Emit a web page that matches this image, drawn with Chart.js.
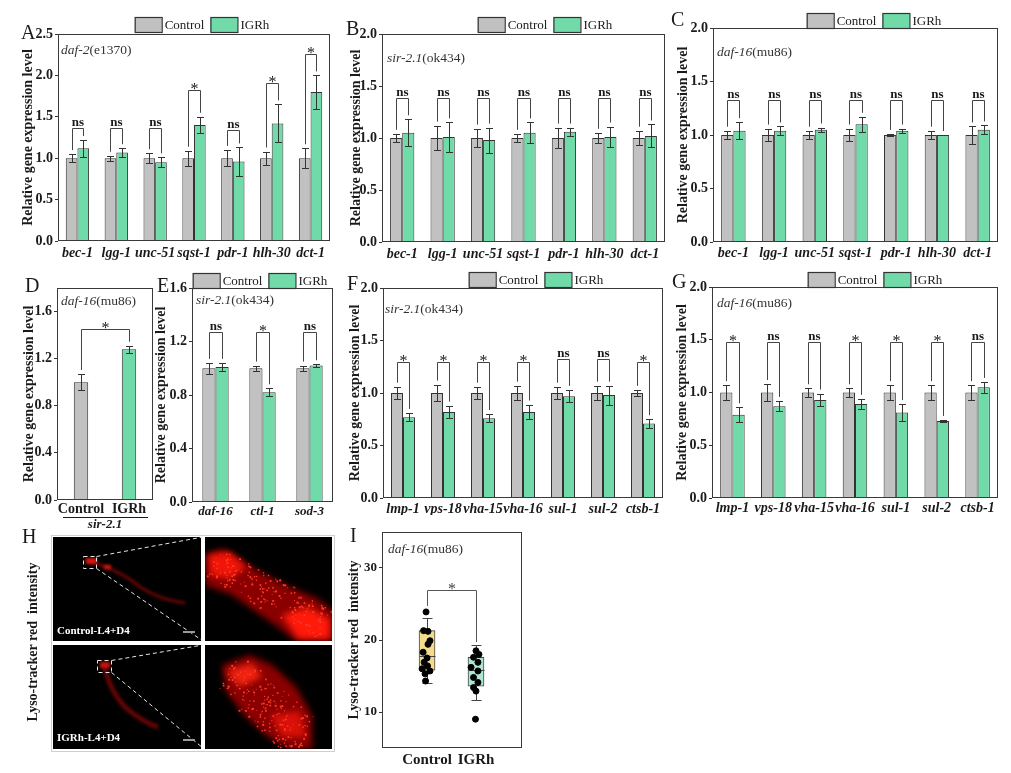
<!DOCTYPE html>
<html>
<head>
<meta charset="utf-8">
<script src="https://cdn.jsdelivr.net/npm/chart.js@4.4.1/dist/chart.umd.min.js"></script>
<style>
  html, body { margin: 0; padding: 0; background: #fff; }
  #page { position: relative; width: 1011px; height: 773px; overflow: hidden; background: #fff; }
  .pane { position: absolute; }
</style>
</head>
<body>
<div id="page"></div>
<script>
// ---- data ----
const seriesNames = ['Control', 'IGRh'];

const genesABC = ['bec-1', 'lgg-1', 'unc-51', 'sqst-1', 'pdr-1', 'hlh-30', 'dct-1'];

const ctrlA = [1, 1, 1, 1, 1, 1, 1];
const ctrlErrA = [0.05, 0.03, 0.06, 0.09, 0.10, 0.08, 0.12];
const igrhA = [1.12, 1.07, 0.95, 1.40, 0.96, 1.42, 1.80];
const igrhErrA = [0.10, 0.05, 0.06, 0.10, 0.17, 0.23, 0.20];
const sigA = ['ns', 'ns', 'ns', '*', 'ns', '*', '*'];
const bracketA = [1.36, 1.36, 1.36, 1.82, 1.34, 1.91, 2.26];

const ctrlB = [1, 1, 1, 1, 1, 1, 1];
const ctrlErrB = [0.04, 0.12, 0.09, 0.04, 0.10, 0.05, 0.07];
const igrhB = [1.05, 1.01, 0.98, 1.05, 1.06, 1.01, 1.02];
const igrhErrB = [0.13, 0.14, 0.12, 0.10, 0.04, 0.10, 0.11];
const sigB = ['ns', 'ns', 'ns', 'ns', 'ns', 'ns', 'ns'];
const bracketB = [1.38, 1.38, 1.38, 1.38, 1.38, 1.38, 1.38];

const ctrlC = [1, 1, 1, 1, 1, 1, 1];
const ctrlErrC = [0.04, 0.06, 0.04, 0.06, 0.01, 0.04, 0.08];
const igrhC = [1.04, 1.04, 1.05, 1.10, 1.04, 1.00, 1.05];
const igrhErrC = [0.08, 0.04, 0.02, 0.07, 0.02, 0.00, 0.04];
const sigC = ['ns', 'ns', 'ns', 'ns', 'ns', 'ns', 'ns'];
const bracketC = [1.33, 1.33, 1.33, 1.33, 1.33, 1.33, 1.33];

const groupsD = ['Control', 'IGRh'];
const valuesD = [1.00, 1.28];
const errD = [0.07, 0.03];
const sigD = ['*'];
const bracketD = [1.45];

const genesE = ['daf-16', 'ctl-1', 'sod-3'];
const ctrlE = [1, 1, 1];
const ctrlErrE = [0.04, 0.02, 0.02];
const igrhE = [1.01, 0.82, 1.02];
const igrhErrE = [0.03, 0.03, 0.01];
const sigE = ['ns', '*', 'ns'];
const bracketE = [1.27, 1.27, 1.27];

const genesFG = ['lmp-1', 'vps-18', 'vha-15', 'vha-16', 'sul-1', 'sul-2', 'ctsb-1'];

const ctrlF = [1, 1, 1, 1, 1, 1, 1];
const ctrlErrF = [0.06, 0.08, 0.06, 0.07, 0.06, 0.07, 0.03];
const igrhF = [0.77, 0.82, 0.76, 0.82, 0.97, 0.98, 0.71];
const igrhErrF = [0.04, 0.06, 0.04, 0.07, 0.06, 0.09, 0.04];
const sigF = ['*', '*', '*', '*', 'ns', 'ns', '*'];
const bracketF = [1.30, 1.30, 1.30, 1.30, 1.32, 1.32, 1.30];

const ctrlG = [1, 1, 1, 1, 1, 1, 1];
const ctrlErrG = [0.07, 0.08, 0.04, 0.04, 0.07, 0.07, 0.07];
const igrhG = [0.79, 0.87, 0.93, 0.89, 0.81, 0.73, 1.05];
const igrhErrG = [0.07, 0.05, 0.06, 0.05, 0.08, 0.01, 0.05];
const sigG = ['*', 'ns', 'ns', '*', '*', '*', 'ns'];
const bracketG = [1.48, 1.48, 1.48, 1.48, 1.48, 1.48, 1.48];

// panel I (box plot + points)
const groupsI = ['Control', 'IGRh'];
const ticksI = [10, 20, 30];
const boxLowI = [14.0, 11.6];
const boxQ1I = [15.8, 13.6];
const boxMedI = [17.8, 15.8];
const boxQ3I = [21.3, 17.6];
const boxHighI = [23.0, 19.3];
const pointsCtrlI = [23.9, 21.3, 21.2, 19.9, 19.4, 18.3, 17.5, 16.9, 16.4, 16.0, 15.7, 15.3, 14.3];
const jitterCtrlI = [-0.02, -0.07, 0.02, 0.06, 0.02, -0.08, 0.00, -0.06, 0.01, -0.10, 0.06, -0.04, -0.03];
const pointsIgrhI = [18.5, 18.0, 17.6, 16.9, 16.2, 15.7, 14.8, 14.1, 13.4, 12.9, 9.0];
const jitterIgrhI = [0.00, 0.06, -0.05, 0.04, -0.10, 0.04, -0.05, 0.04, -0.05, 0.00, -0.01];
const sigI = ['*'];
const bracketI = [27.0];

// ---- styling ----
const SERIF = "'Liberation Serif', 'Times New Roman', serif";
const GRAY = '#c1c1c1';
const GREEN = '#70dba9';
const EDGE = '#333333';
const INK = '#1a1a1a';
const TITLE_SIZE = 14;
Chart.defaults.font.family = SERIF;
Chart.defaults.color = INK;

function addCanvas(x, y, w, h) {
  const d = document.createElement('div');
  d.className = 'pane';
  d.style.cssText = `left:${x}px;top:${y}px;width:${w}px;height:${h}px`;
  const c = document.createElement('canvas');
  c.width = w; c.height = h;
  c.style.width = w + 'px'; c.style.height = h + 'px';
  d.appendChild(c);
  document.getElementById('page').appendChild(d);
  return c;
}

function seg(ctx, x1, y1, x2, y2) {
  ctx.beginPath(); ctx.moveTo(x1, y1); ctx.lineTo(x2, y2); ctx.stroke();
}

function mixedText(ctx, parts, x, y) {
  parts.forEach(([t, f]) => {
    ctx.font = f;
    ctx.fillText(t, x, y);
    x += ctx.measureText(t).width;
  });
}

function drawSig(ctx, s, x, y) {
  ctx.textAlign = 'center';
  ctx.textBaseline = 'alphabetic';
  if (s === '*') {
    ctx.font = `16px ${SERIF}`;
    ctx.fillText('*', x, y + 3);
  } else {
    ctx.font = `bold 13px ${SERIF}`;
    ctx.fillText(s, x, y - 3);
  }
}

function drawLegend(ctx, datasets, cx, top) {
  ctx.font = `13px ${SERIF}`;
  const bw = 27, bh = 15;
  const w = datasets.reduce((s, d) => s + bw + 3 + ctx.measureText(d.label).width, 0) + 6;
  let x = cx - w / 2;
  datasets.forEach(d => {
    ctx.fillStyle = d.backgroundColor;
    ctx.fillRect(x, top, bw, bh);
    ctx.strokeStyle = EDGE; ctx.lineWidth = 1.2;
    ctx.strokeRect(x + 0.5, top + 0.5, bw, bh);
    x += bw + 3;
    ctx.fillStyle = INK;
    ctx.textAlign = 'left'; ctx.textBaseline = 'middle';
    ctx.fillText(d.label, x, top + bh / 2 + 1);
    x += ctx.measureText(d.label).width + 6;
  });
}

function makeDecor(p) {
  return {
    id: 'decor',
    afterDatasetsDraw(chart) {
      if (!p.errs) return;
      const ctx = chart.ctx, ys = chart.scales.y;
      ctx.save();
      ctx.strokeStyle = EDGE; ctx.lineWidth = 1;
      p.errs.forEach((errs, di) => {
        const vals = chart.data.datasets[di].data;
        chart.getDatasetMeta(di).data.forEach((el, j) => {
          if (!errs[j]) return;
          const x = Math.round(el.x) + 0.5;
          const t = Math.round(ys.getPixelForValue(vals[j] + errs[j])) + 0.5;
          const b = Math.round(ys.getPixelForValue(vals[j] - errs[j])) + 0.5;
          seg(ctx, x, t, x, b);
          seg(ctx, x - 3.5, t, x + 3.5, t);
          seg(ctx, x - 3.5, b, x + 3.5, b);
        });
      });
      ctx.restore();
    },
    afterDraw(chart) {
      const ctx = chart.ctx, a = chart.chartArea, ys = chart.scales.y;
      const ox = p.x0, oy = p.y0;
      ctx.save();
      ctx.strokeStyle = '#3a3a3a'; ctx.lineWidth = 1;
      ctx.strokeRect(Math.round(a.left) + 0.5, Math.round(a.top) + 0.5, Math.round(a.width) - 1, Math.round(a.height) - 1);
      ctx.fillStyle = INK; ctx.textAlign = 'left'; ctx.textBaseline = 'alphabetic';
      ctx.font = `20px ${SERIF}`;
      ctx.fillText(p.letter[0], p.letter[1] - ox, p.letter[2] - oy);
      ctx.fillStyle = '#333';
      mixedText(ctx, [[p.strain[0], `italic 13.5px ${SERIF}`], [p.strain[1], `13.5px ${SERIF}`]], p.strain[2] - ox, p.strain[3] - oy);
      if (p.legend) drawLegend(ctx, chart.data.datasets, p.legend[0] - ox, p.legend[1] - oy);
      if (p.pairs) {
        ctx.strokeStyle = '#444'; ctx.lineWidth = 1; ctx.fillStyle = INK;
        p.pairs.forEach(([d1, j1, d2, j2], k) => {
          const e1 = chart.getDatasetMeta(d1).data[j1], e2 = chart.getDatasetMeta(d2).data[j2];
          const v1 = chart.data.datasets[d1].data[j1] + p.errs[d1][j1];
          const v2 = chart.data.datasets[d2].data[j2] + p.errs[d2][j2];
          const xl = Math.round(e1.x) + 0.5, xr = Math.round(e2.x) + 0.5;
          const yb = Math.round(ys.getPixelForValue(p.bracket[k])) + 0.5;
          ctx.beginPath();
          ctx.moveTo(xl, ys.getPixelForValue(v1) - 4);
          ctx.lineTo(xl, yb); ctx.lineTo(xr, yb);
          ctx.lineTo(xr, ys.getPixelForValue(v2) - 4);
          ctx.stroke();
          drawSig(ctx, p.sig[k], (xl + xr) / 2, yb);
        });
      }
      if (p.extra) p.extra(chart, ctx);
      ctx.restore();
    }
  };
}

function barPanel(p) {
  const c = addCanvas(p.x0, p.y0, p.w, p.h);
  const [pl, pt, pr, pb] = p.plot;
  const pad = { left: 0, top: pt - p.y0, right: p.x0 + p.w - pr, bottom: p.y0 + p.h - pb - p.xh };
  const yw = pl - p.x0;
  new Chart(c, {
    type: 'bar',
    data: { labels: p.labels, datasets: p.datasets },
    options: {
      responsive: false, animation: false, events: [],
      layout: { padding: pad },
      plugins: { legend: { display: false }, tooltip: { enabled: false } },
      scales: {
        x: {
          grid: { display: false, drawTicks: false }, border: { display: false },
          ticks: { autoSkip: false, maxRotation: 0, minRotation: 0, padding: p.xpad, color: INK,
                   font: { family: SERIF, size: p.xfs || 14, weight: 'bold', style: p.xstyle || 'italic' } },
          afterFit: s => { s.height = p.xh; }
        },
        y: {
          min: 0, max: p.ymax,
          grid: { drawOnChartArea: false, drawTicks: true, tickLength: 3, color: EDGE },
          border: { display: false },
          ticks: { stepSize: p.step, includeBounds: false, padding: 2, color: INK,
                   font: { family: SERIF, size: 14, weight: 'bold' },
                   callback: v => Number(v).toFixed(1) },
          title: { display: true, text: 'Relative gene expression level', color: INK,
                   font: { family: SERIF, size: TITLE_SIZE, weight: 'bold' },
                   padding: { top: Math.max(0, p.titleX - p.x0 - TITLE_SIZE * 0.6), bottom: 0 } },
          afterFit: s => { s.width = yw; }
        }
      }
    },
    plugins: [makeDecor(p)]
  });
}

function grouped(ctrl, igrh, pct) {
  return [
    { label: seriesNames[0], data: ctrl, backgroundColor: GRAY, borderColor: EDGE, borderWidth: 1,
      categoryPercentage: pct, barPercentage: 1 },
    { label: seriesNames[1], data: igrh, backgroundColor: GREEN, borderColor: EDGE, borderWidth: 1,
      categoryPercentage: pct, barPercentage: 1 }
  ];
}
const pairsOf = n => Array.from({ length: n }, (_, i) => [0, i, 1, i]);

// ---- top row ----
barPanel({ x0: 0, y0: 0, w: 335, h: 265, plot: [58, 34, 330, 241], xh: 24, xpad: 4, titleX: 28,
  ymax: 2.5, step: 0.5, labels: genesABC, datasets: grouped(ctrlA, igrhA, 0.6),
  errs: [ctrlErrA, igrhErrA], pairs: pairsOf(7), sig: sigA, bracket: bracketA,
  letter: ['A', 21, 39], strain: ['daf-2', '(e1370)', 61, 54], legend: [202, 17] });

barPanel({ x0: 335, y0: 0, w: 335, h: 265, plot: [382, 34, 665, 242], xh: 23, xpad: 4, titleX: 356,
  ymax: 2.0, step: 0.5, labels: genesABC, datasets: grouped(ctrlB, igrhB, 0.6),
  errs: [ctrlErrB, igrhErrB], pairs: pairsOf(7), sig: sigB, bracket: bracketB,
  letter: ['B', 346, 35], strain: ['sir-2.1', '(ok434)', 387, 62], legend: [545, 17] });

barPanel({ x0: 670, y0: 0, w: 341, h: 265, plot: [713, 28, 998, 242], xh: 23, xpad: 3, titleX: 683,
  ymax: 2.0, step: 0.5, labels: genesABC, datasets: grouped(ctrlC, igrhC, 0.6),
  errs: [ctrlErrC, igrhErrC], pairs: pairsOf(7), sig: sigC, bracket: bracketC,
  letter: ['C', 671, 26], strain: ['daf-16', '(mu86)', 717, 56], legend: [874, 13] });

// ---- middle row ----
barPanel({ x0: 0, y0: 265, w: 160, h: 270, plot: [57, 288, 153, 500], xh: 18, xpad: 1, titleX: 29,
  ymax: 1.8, step: 0.4, labels: groupsD, xstyle: 'normal',
  datasets: [{ label: 'daf-16', data: valuesD, backgroundColor: [GRAY, GREEN], borderColor: EDGE, borderWidth: 1,
               categoryPercentage: 1, barPercentage: 0.3 }],
  errs: [errD], pairs: [[0, 0, 0, 1]], sig: sigD, bracket: bracketD,
  letter: ['D', 25, 292], strain: ['daf-16', '(mu86)', 61, 305],
  extra: (chart, ctx) => {
    const a = chart.chartArea;
    ctx.strokeStyle = INK; ctx.lineWidth = 1;
    seg(ctx, 63, a.bottom + 17.5, 148, a.bottom + 17.5);
    ctx.fillStyle = INK; ctx.textAlign = 'center'; ctx.textBaseline = 'alphabetic';
    ctx.font = `italic bold 13px ${SERIF}`;
    ctx.fillText('sir-2.1', 105, a.bottom + 28);
  } });

barPanel({ x0: 150, y0: 265, w: 185, h: 250, plot: [192, 288, 333, 502], xh: 18, xpad: 2, xfs: 13, titleX: 161,
  ymax: 1.6, step: 0.4, labels: genesE, datasets: grouped(ctrlE, igrhE, 0.56),
  errs: [ctrlErrE, igrhErrE], pairs: pairsOf(3), sig: sigE, bracket: bracketE,
  letter: ['E', 157, 292], strain: ['sir-2.1', '(ok434)', 196, 304], legend: [260, 273] });

barPanel({ x0: 335, y0: 265, w: 335, h: 250, plot: [383, 288, 663, 498], xh: 20, xpad: 3, titleX: 355,
  ymax: 2.0, step: 0.5, labels: genesFG, datasets: grouped(ctrlF, igrhF, 0.6),
  errs: [ctrlErrF, igrhErrF], pairs: pairsOf(7), sig: sigF, bracket: bracketF,
  letter: ['F', 347, 290], strain: ['sir-2.1', '(ok434)', 385, 313], legend: [536, 272] });

barPanel({ x0: 670, y0: 265, w: 341, h: 250, plot: [712, 287, 998, 498], xh: 20, xpad: 2, titleX: 682,
  ymax: 2.0, step: 0.5, labels: genesFG, datasets: grouped(ctrlG, igrhG, 0.6),
  errs: [ctrlErrG, igrhErrG], pairs: pairsOf(7), sig: sigG, bracket: bracketG,
  letter: ['G', 672, 288], strain: ['daf-16', '(mu86)', 717, 307], legend: [875, 272] });

// ---- panel H: fluorescence micrographs (illustration only) ----
function drawMicro() {
  const c = addCanvas(0, 515, 340, 258);
  const ctx = c.getContext('2d');
  ctx.fillStyle = INK; ctx.font = `20px ${SERIF}`; ctx.textBaseline = 'alphabetic';
  ctx.fillText('H', 22, 28);
  ctx.save();
  ctx.translate(33, 127); ctx.rotate(-Math.PI / 2);
  ctx.font = `bold 14px ${SERIF}`; ctx.textAlign = 'center'; ctx.textBaseline = 'middle';
  ctx.fillText('Lyso-tracker red  intensity', 0, 0);
  ctx.restore();

  ctx.fillStyle = '#cfcfcf'; ctx.fillRect(51, 20, 284, 217);
  ctx.fillStyle = '#fff'; ctx.fillRect(52, 21, 282, 215);
  const tiles = [[53, 22, 148, 104], [205, 22, 127, 104], [53, 130, 148, 104], [205, 130, 127, 104]];
  ctx.fillStyle = '#000';
  tiles.forEach(t => ctx.fillRect(...t));

  const hash = k => { const s = Math.sin(k * 12.9898) * 43758.5453; return s - Math.floor(s); };
  function inTile(t, fn) {
    ctx.save(); ctx.beginPath(); ctx.rect(...t); ctx.clip(); fn(); ctx.restore();
  }
  function blob(pts, color, blur) {
    ctx.save(); ctx.filter = `blur(${blur}px)`; ctx.fillStyle = color;
    ctx.beginPath(); pts.forEach(([x, y], i) => i ? ctx.lineTo(x, y) : ctx.moveTo(x, y));
    ctx.closePath(); ctx.fill(); ctx.restore();
  }
  function specks(x0, y0, x1, y1, spread, n, color, seed) {
    ctx.fillStyle = color;
    for (let k = 0; k < n; k++) {
      const t = hash(k + seed);
      const off = (hash(k * 7 + seed + 3) - 0.5) * spread;
      const x = x0 + (x1 - x0) * t - off * 0.6, y = y0 + (y1 - y0) * t + off;
      const r = 0.8 + hash(k * 3 + seed) * 1.2;
      ctx.fillRect(x, y, r, r);
    }
  }
  inTile(tiles[0], () => {
    ctx.save(); ctx.filter = 'blur(1.5px)';
    ctx.strokeStyle = 'rgba(140,8,5,0.75)'; ctx.lineWidth = 3;
    ctx.beginPath(); ctx.moveTo(86, 45); ctx.quadraticCurveTo(120, 55, 140, 72); ctx.quadraticCurveTo(160, 85, 185, 88); ctx.stroke();
    ctx.fillStyle = '#d81810'; ctx.fillRect(86, 43, 11, 6); ctx.fillRect(104, 50, 7, 4);
    ctx.restore();
  });
  inTile(tiles[2], () => {
    ctx.save(); ctx.filter = 'blur(1.5px)';
    ctx.strokeStyle = 'rgba(130,8,5,0.75)'; ctx.lineWidth = 5;
    ctx.beginPath(); ctx.moveTo(104, 150); ctx.quadraticCurveTo(112, 185, 135, 200); ctx.quadraticCurveTo(150, 210, 158, 212); ctx.stroke();
    ctx.fillStyle = '#c81410'; ctx.fillRect(100, 147, 10, 6);
    ctx.restore();
  });
  inTile(tiles[1], () => {
    blob([[205, 40], [222, 34], [240, 44], [262, 58], [290, 72], [318, 84], [334, 96], [334, 126], [296, 126], [278, 112],
          [255, 96], [232, 80], [205, 70]], '#8a0000', 3);
    blob([[208, 40], [230, 37], [246, 52], [230, 64], [210, 60]], '#f01508', 3);
    blob([[282, 100], [308, 92], [330, 104], [330, 124], [298, 124]], '#ff1a0a', 3);
    specks(212, 48, 326, 108, 30, 170, '#ff3a28', 11);
  });
  inTile(tiles[3], () => {
    blob([[222, 150], [250, 140], [272, 150], [296, 172], [312, 200], [312, 234], [290, 234], [268, 222], [244, 200], [226, 176]], '#8a0000', 3);
    blob([[226, 156], [252, 148], [262, 162], [240, 172]], '#f02210', 3);
    blob([[270, 200], [300, 196], [306, 222], [282, 222]], '#d81008', 3);
    specks(228, 155, 305, 225, 40, 180, '#ff3a28', 97);
  });
  ctx.strokeStyle = '#e6e6e6'; ctx.lineWidth = 1; ctx.setLineDash([4, 3]);
  ctx.strokeRect(83.5, 41.5, 13, 12);
  seg(ctx, 96.5, 41.5, 203, 22); seg(ctx, 96.5, 53.5, 203, 126);
  ctx.strokeRect(97.5, 145.5, 14, 12);
  seg(ctx, 111.5, 145.5, 203, 130); seg(ctx, 111.5, 157.5, 203, 233);
  ctx.setLineDash([]);
  ctx.fillStyle = '#9a9a9a';
  ctx.fillRect(183, 116, 12, 2); ctx.fillRect(183, 224, 12, 2);
  ctx.fillStyle = '#fff'; ctx.font = `bold 11px ${SERIF}`; ctx.textAlign = 'left'; ctx.textBaseline = 'alphabetic';
  ctx.fillText('Control-L4+D4', 57, 119);
  ctx.fillText('IGRh-L4+D4', 57, 226);
}
drawMicro();

// ---- panel I: box plot with points ----
(function () {
  const x0 = 340, y0 = 515, w = 195, h = 258;
  const plot = [382, 532, 522, 748];
  const c = addCanvas(x0, y0, w, h);
  const boxColors = ['#f3da8c', '#ade6d5'];
  const boxDecor = {
    id: 'boxDecor',
    afterDatasetDraw(chart, args) {
      if (args.index !== 0) return;
      const ctx = chart.ctx, xs = chart.scales.x, ys = chart.scales.y;
      ctx.save(); ctx.strokeStyle = '#444'; ctx.lineWidth = 1;
      groupsI.forEach((g, i) => {
        const x = Math.round(xs.getPixelForValue(i)) + 0.5;
        const py = v => Math.round(ys.getPixelForValue(v)) + 0.5;
        seg(ctx, x, py(boxHighI[i]), x, py(boxQ3I[i]));
        seg(ctx, x, py(boxQ1I[i]), x, py(boxLowI[i]));
        seg(ctx, x - 5, py(boxHighI[i]), x + 5, py(boxHighI[i]));
        seg(ctx, x - 5, py(boxLowI[i]), x + 5, py(boxLowI[i]));
        seg(ctx, x - 8, py(boxMedI[i]), x + 8, py(boxMedI[i]));
      });
      ctx.restore();
    },
    afterDraw(chart) {
      const ctx = chart.ctx, a = chart.chartArea, xs = chart.scales.x, ys = chart.scales.y;
      ctx.save();
      ctx.strokeStyle = '#3a3a3a'; ctx.lineWidth = 1;
      ctx.strokeRect(Math.round(a.left) + 0.5, Math.round(a.top) + 0.5, Math.round(a.width) - 1, Math.round(a.height) - 1);
      ctx.fillStyle = INK; ctx.font = `20px ${SERIF}`; ctx.textAlign = 'left'; ctx.textBaseline = 'alphabetic';
      ctx.fillText('I', 350 - x0, 542 - y0);
      ctx.fillStyle = '#333';
      mixedText(ctx, [['daf-16', `italic 13.5px ${SERIF}`], ['(mu86)', `13.5px ${SERIF}`]], 388 - x0, 553 - y0);
      const xl = Math.round(xs.getPixelForValue(0)) + 0.5, xr = Math.round(xs.getPixelForValue(1)) + 0.5;
      const yb = Math.round(ys.getPixelForValue(bracketI[0])) + 0.5;
      const topL = Math.max(boxHighI[0], ...pointsCtrlI), topR = Math.max(boxHighI[1], ...pointsIgrhI);
      ctx.strokeStyle = '#555';
      ctx.beginPath();
      ctx.moveTo(xl, ys.getPixelForValue(topL) - 6); ctx.lineTo(xl, yb); ctx.lineTo(xr, yb);
      ctx.lineTo(xr, ys.getPixelForValue(topR) - 3); ctx.stroke();
      ctx.fillStyle = '#444';
      drawSig(ctx, sigI[0], (xl + xr) / 2, yb);
      ctx.restore();
    }
  };
  new Chart(c, {
    type: 'bar',
    data: {
      datasets: [
        { type: 'bar', label: 'box', order: 2,
          data: groupsI.map((g, i) => ({ x: i, y: [boxQ1I[i], boxQ3I[i]] })),
          backgroundColor: boxColors, borderColor: '#444', borderWidth: 1, borderSkipped: false, barThickness: 16 },
        { type: 'scatter', label: groupsI[0], order: 0,
          data: pointsCtrlI.map((v, k) => ({ x: jitterCtrlI[k], y: v })),
          backgroundColor: '#000', borderColor: '#000', pointRadius: 3 },
        { type: 'scatter', label: groupsI[1], order: 0,
          data: pointsIgrhI.map((v, k) => ({ x: 1 + jitterIgrhI[k], y: v })),
          backgroundColor: '#000', borderColor: '#000', pointRadius: 3 }
      ]
    },
    options: {
      responsive: false, animation: false, events: [],
      layout: { padding: { left: 0, top: plot[1] - y0, right: x0 + w - plot[2], bottom: y0 + h - plot[3] - 20 } },
      plugins: { legend: { display: false }, tooltip: { enabled: false } },
      scales: {
        x: {
          type: 'linear', min: -0.92, max: 1.94, offset: false,
          grid: { display: false, drawTicks: false }, border: { display: false },
          afterBuildTicks: s => { s.ticks = groupsI.map((g, i) => ({ value: i })); },
          ticks: { padding: 3, color: INK, font: { family: SERIF, size: 15, weight: 'bold' },
                   callback: v => groupsI[v] },
          afterFit: s => { s.height = 20; }
        },
        y: {
          min: 5, max: 35,
          grid: { drawOnChartArea: false, drawTicks: true, tickLength: 3, color: EDGE },
          border: { display: false },
          afterBuildTicks: s => { s.ticks = ticksI.map(v => ({ value: v })); },
          ticks: { padding: 2, color: INK, font: { family: SERIF, size: 13, weight: 'bold' } },
          title: { display: true, text: 'Lyso-tracker red  intensity', color: INK,
                   font: { family: SERIF, size: TITLE_SIZE, weight: 'bold' },
                   padding: { top: 354 - x0 - TITLE_SIZE * 0.6, bottom: 0 } },
          afterFit: s => { s.width = plot[0] - x0; }
        }
      }
    },
    plugins: [boxDecor]
  });
})();
</script>
</body>
</html>
